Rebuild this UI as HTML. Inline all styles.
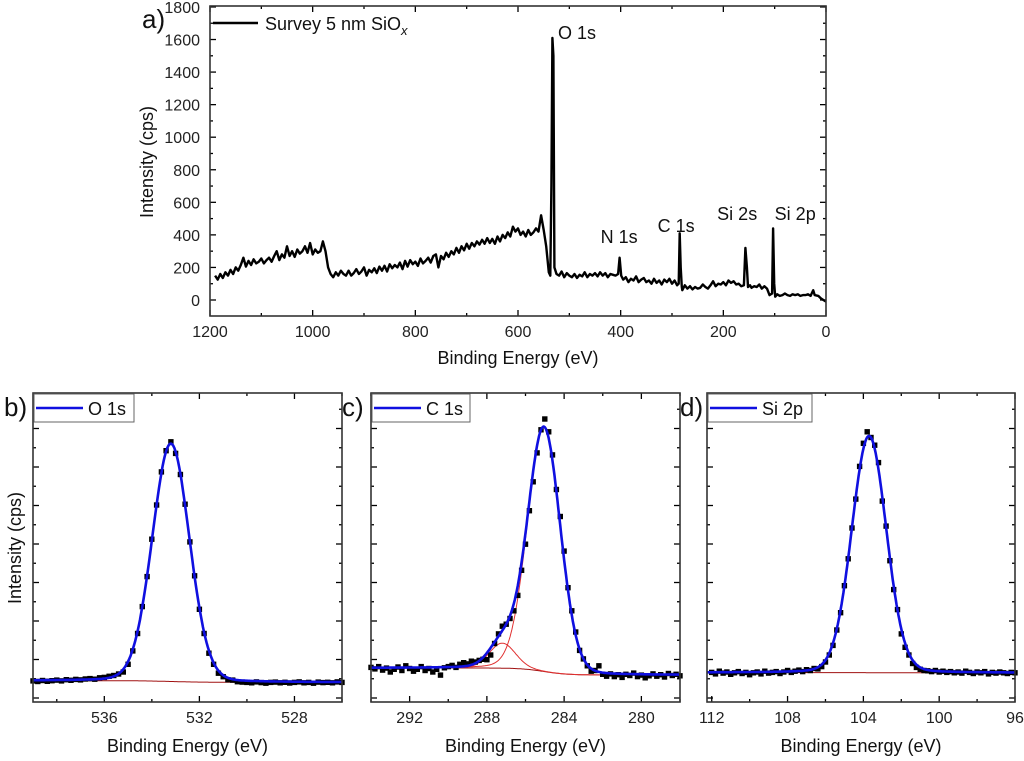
<!DOCTYPE html>
<html><head><meta charset="utf-8"><style>
html,body{margin:0;padding:0;background:#fff;}
svg{display:block;font-family:"Liberation Sans",Arial,sans-serif;}
</style></head><body>
<svg id="fig" width="1024" height="761" viewBox="0 0 1024 761" xmlns="http://www.w3.org/2000/svg"></svg>
<script>
// ---- Survey (a) ----
const surveyBE=[
1190,1185,1180,1175,1170,1165,1160,1155,1150,1145,
1140,1135,1130,1125,1120,1115,1110,1105,1100,1095,
1090,1085,1080,1075,1070,1065,1060,1055,1050,1045,
1040,1035,1030,1025,1020,1015,1010,1005,1000,995,
990,985,980,975,970,965,960,955,950,945,
940,935,930,925,920,915,910,905,900,895,
890,885,880,875,870,865,860,855,850,845,
840,835,830,825,820,815,810,805,800,795,
790,785,780,775,770,765,760,755,750,745,
740,735,730,725,720,715,710,705,700,695,
690,685,680,675,670,665,660,655,650,645,
640,635,630,625,620,615,610,605,600,595,
590,585,580,575,570,565,560,555,550,545,
540,537,535,533,531,529,525,520,515,510,
505,500,495,490,485,480,475,470,465,460,
455,450,445,440,435,430,425,420,415,410,
405,402,399,395,390,385,380,375,370,365,
360,355,350,345,340,335,330,325,320,315,
310,305,300,295,290,287,285,283,281,280,
275,270,265,260,255,250,245,240,235,230,
225,220,215,210,205,200,195,190,185,180,
175,170,165,160,157,154,152,148,145,140,
135,130,125,120,115,110,105,103,101,99,
95,90,85,80,75,70,65,60,55,50,
45,40,35,30,25,22,15,10,5,0];
const surveyCounts=[
150,125,160,135,170,150,185,160,200,180,
215,260,205,240,215,250,225,235,255,225,
245,260,235,270,300,245,280,260,330,270,
300,265,310,285,300,330,290,350,280,310,
290,300,360,300,200,160,140,170,150,180,
160,150,180,150,165,190,160,175,200,150,
185,170,195,165,205,180,210,175,220,195,
215,200,230,190,240,205,245,220,235,210,
255,225,240,260,230,270,280,200,270,250,
290,265,300,280,320,290,330,305,345,315,
350,330,360,340,370,345,380,350,375,345,
390,360,400,380,415,390,450,420,440,400,
420,390,430,400,415,440,420,520,430,330,
170,150,700,1610,1500,200,160,150,175,140,
165,150,140,160,135,155,145,170,140,160,
150,165,145,170,150,165,140,160,155,150,
160,260,150,125,140,110,130,120,145,110,
125,135,110,120,100,130,105,120,95,125,
110,130,100,120,90,100,410,200,80,60,
90,70,85,65,80,70,75,95,80,70,
90,115,85,100,95,110,90,120,105,115,
95,100,85,90,320,200,80,90,75,85,
80,95,70,85,70,30,40,440,100,20,
35,25,30,40,30,25,35,30,35,25,
30,30,35,25,60,30,25,10,0,-10];
const surveyXTicks=[1200,1000,800,600,400,200,0];
const surveyYTicks=[0,200,400,600,800,1000,1200,1400,1600,1800];
const peakLabels=["O 1s","N 1s","C 1s","Si 2s","Si 2p"];
const peakLabelBE=[485,403,292,173,60];
const peakLabelCounts=[1603,350,418,491,491];

// ---- O 1s (b) ----
const o1sBEStart=539.0, o1sStep=0.2;
const o1sCounts=[470,455,480,460,475,490,470,500,485,510,495,520,530,515,550,560,590,610,650,700,900,1250,1700,2400,3180,4150,5040,5900,6450,6680,6380,5830,5060,4080,3200,2330,1700,1190,900,670,580,500,490,450,440,430,420,445,425,410,430,440,420,435,415,430,445,420,430,410,440,425,435,420,445,430];
const o1sPeakCenters=[533.2], o1sPeakAmps=[6180], o1sPeakFWHM=[1.84];
const o1sBg=[475,435];
const o1sXTicks=[536,532,528];

// ---- C 1s (c) ----
const c1sBEStart=294.0, c1sStep=0.2;
const c1sCounts=[380,340,400,310,360,260,330,390,300,420,350,280,330,400,300,350,260,330,180,370,400,430,380,460,500,470,540,520,560,590,580,700,1000,1250,1450,1500,1650,1850,2250,2900,3580,4450,5200,5950,6550,6830,6500,5900,5000,4300,3400,2450,1850,1300,820,600,420,280,300,420,200,150,210,140,190,120,200,170,230,140,180,110,160,210,150,190,130,220,170,200,160];
const c1sPeakCenters=[285.05,287.2], c1sPeakAmps=[6350,650], c1sPeakFWHM=[2.0,1.6];
const c1sBg=[364,182];
const c1sXTicks=[292,288,284,280];

// ---- Si 2p (d) ----
const si2pBEStart=112.0, si2pStep=0.2;
const si2pCounts=[250,210,280,230,260,200,240,270,220,250,190,240,260,210,280,230,250,270,220,260,300,250,280,310,270,320,300,350,340,400,520,700,950,1350,1800,2500,3200,4000,4750,5600,6200,6500,6350,6150,5700,4700,4050,3150,2400,1880,1250,900,700,480,380,330,300,290,270,300,260,280,250,270,240,260,230,280,250,220,260,240,270,210,250,230,260,240,220,250,240];
const si2pPeakCenters=[103.7], si2pPeakAmps=[6150], si2pPeakFWHM=[2.15];
const si2pBg=[245,240];
const si2pXTicks=[112,108,104,100,96];

const NS="http://www.w3.org/2000/svg";
const svg=document.getElementById('fig');
function mk(tag,attrs,parent){const e=document.createElementNS(NS,tag);for(const k in attrs)e.setAttribute(k,attrs[k]);(parent||svg).appendChild(e);return e;}
function txt(s,attrs,parent){const e=mk('text',attrs,parent);e.textContent=s;return e;}

// ===== Panel a =====
(function(){
  const L=210,R=826,T=6,B=316;
  const xS=v=>L+(1200-v)*(R-L)/1200;
  const yS=v=>300-v*0.1628;
  const g=mk('g',{});
  
  
  for(let v=0;v<=1200;v+=100){const x=xS(v);const len=v%200===0?6:3;
    mk('line',{x1:x,y1:B,x2:x,y2:B-len,stroke:'#000','stroke-width':1.3},g);
    mk('line',{x1:x,y1:T,x2:x,y2:T+len,stroke:'#000','stroke-width':1.3},g);}
  for(let v=-100;v<=1800;v+=100){const y=yS(v);if(y<T||y>B)continue;const len=v%200===0?6:3;
    mk('line',{x1:L,y1:y,x2:L+len,y2:y,stroke:'#000','stroke-width':1.3},g);
    mk('line',{x1:R,y1:y,x2:R-len,y2:y,stroke:'#000','stroke-width':1.3},g);}
  surveyXTicks.forEach(v=>{const t=txt(String(v),{x:xS(v),y:337,'font-size':16,'text-anchor':'middle',fill:'#222'},g);
    });
  surveyYTicks.forEach(v=>{const t=txt(String(v),{x:200,y:yS(v)+6,'font-size':16,'text-anchor':'end',fill:'#222'},g);
    });
  const d=surveyBE.map((b,i)=>(i?'L':'M')+xS(b).toFixed(1)+','+yS(surveyCounts[i]).toFixed(1)).join('');
  const p=mk('path',{d:d,fill:'none',stroke:'#000','stroke-width':2.4,'stroke-linejoin':'round'},g);
  
  mk('rect',{x:L,y:T,width:R-L,height:B-T,fill:'none',stroke:'#333','stroke-width':1.6},g);
  peakLabels.forEach((s,i)=>{const t=txt(s,{x:xS(peakLabelBE[i]),y:yS(peakLabelCounts[i]),'font-size':18,'text-anchor':'middle',fill:'#111'},g);
    });
  const lg=mk('g',{},g);
  mk('line',{x1:213,y1:23,x2:258,y2:23,stroke:'#000','stroke-width':2.5},lg);
  const lt=txt('Survey 5 nm SiO',{x:265,y:30,'font-size':18,fill:'#111'},lg);
  const sub=mk('tspan',{dy:5,'font-size':13,'font-style':'italic'},lt);sub.textContent='x';
  const pa=txt('a)',{x:142,y:28,'font-size':26,fill:'#111'},g);
  const xt=txt('Binding Energy (eV)',{x:518,y:364,'font-size':18,'text-anchor':'middle',fill:'#111'},g);
  
  const yt=txt('Intensity (cps)',{x:0,y:0,'font-size':18,'text-anchor':'middle',fill:'#111',transform:'translate(153,162) rotate(-90)'},g);
  
})();

// ===== Bottom panels =====
function pv(x,c,a,w){const d=(x-c)/w;const G=Math.exp(-2.7726*d*d);const Lz=1/(1+4*d*d);return a*(0.92*G+0.08*Lz);}
function panel(opt){
  const {L,R,T,B,y0,beL,beR,start,step,counts,centers,amps,fwhm,bg,xticks,name,label,lx,legendW}=opt;
  const xS=v=>L+(beL-v)*(R-L)/(beL-beR);
  const yS=v=>y0-v*0.0385;
  const g=mk('g',{});
  
  
  for(let v=Math.ceil(beR/2)*2;v<=beL;v+=2){const x=xS(v);const len=(v%4===0)?6:3;
    mk('line',{x1:x,y1:B,x2:x,y2:B-len,stroke:'#000','stroke-width':1.3},g);
    mk('line',{x1:x,y1:T,x2:x,y2:T+len,stroke:'#000','stroke-width':1.3},g);}
  for(let k=0;k<=18;k++){const y=B-4-k*19.25;if(y<T+2)continue;const len=k%2===0?6:3;
    mk('line',{x1:L,y1:y,x2:L+len,y2:y,stroke:'#000','stroke-width':1.3},g);
    mk('line',{x1:R,y1:y,x2:R-len,y2:y,stroke:'#000','stroke-width':1.3},g);}
  xticks.forEach(v=>{const t=txt(String(v),{x:xS(v),y:723,'font-size':16,'text-anchor':'middle',fill:'#222'},g);
    });
  const bgF=x=>bg[1]+(bg[0]-bg[1])/(1+Math.exp(-(x-centers[0])/0.6));
  const xs=[];for(let x=beL;x>=beR;x-=0.05)xs.push(x);
  const path=f=>xs.map((x,i)=>(i?'L':'M')+xS(x).toFixed(1)+','+yS(f(x)).toFixed(1)).join('');
  const bp=mk('path',{d:path(bgF),fill:'none',stroke:'#a01010','stroke-width':1},g);
  
  centers.forEach((c,i)=>{const cp=mk('path',{d:path(x=>bgF(x)+pv(x,c,amps[i],fwhm[i])),fill:'none',stroke:'#e03030','stroke-width':1},g);
    });
  counts.forEach((v,i)=>{const x=xS(start-i*step),y=yS(v);
    const r=mk('rect',{x:(x-2.7).toFixed(1),y:(y-2.7).toFixed(1),width:5.4,height:5.4,fill:'#000'},g);
    });
  const fp=mk('path',{d:path(x=>bgF(x)+centers.reduce((s,c,i)=>s+pv(x,c,amps[i],fwhm[i]),0)),fill:'none',stroke:'#1010e0','stroke-width':2.6},g);
  
  mk('rect',{x:L,y:T,width:R-L,height:B-T,fill:'none',stroke:'#333','stroke-width':1.6},g);
  const lg=mk('g',{},g);
  mk('rect',{x:L+1,y:T+1,width:legendW,height:28,fill:'#fff',stroke:'#666','stroke-width':1},lg);
  mk('line',{x1:L+3,y1:T+15,x2:L+50,y2:T+15,stroke:'#1010e0','stroke-width':2.6},lg);
  txt(label,{x:L+55,y:T+22,'font-size':18,fill:'#111'},lg);
  const xt=txt('Binding Energy (eV)',{x:(L+R)/2,y:752,'font-size':18,'text-anchor':'middle',fill:'#111'},g);
  
  const pl=txt(lx[0],{x:lx[1],y:416,'font-size':26,fill:'#111'},g);
  
}
panel({L:33,R:342,T:393,B:702,y0:699,beL:539.0,beR:526.0,start:o1sBEStart,step:o1sStep,counts:o1sCounts,centers:o1sPeakCenters,amps:o1sPeakAmps,fwhm:o1sPeakFWHM,bg:o1sBg,xticks:o1sXTicks,name:'o1s',label:'O 1s',lx:['b)',4],legendW:100});
panel({L:371,R:680,T:393,B:702,y0:682,beL:294.0,beR:278.0,start:c1sBEStart,step:c1sStep,counts:c1sCounts,centers:c1sPeakCenters,amps:c1sPeakAmps,fwhm:c1sPeakFWHM,bg:c1sBg,xticks:c1sXTicks,name:'c1s',label:'C 1s',lx:['c)',342],legendW:98});
panel({L:707,R:1015,T:393,B:702,y0:682,beL:112.25,beR:96.0,start:si2pBEStart,step:si2pStep,counts:si2pCounts,centers:si2pPeakCenters,amps:si2pPeakAmps,fwhm:si2pPeakFWHM,bg:si2pBg,xticks:si2pXTicks,name:'si2p',label:'Si 2p',lx:['d)',680],legendW:104});
const yt=txt('Intensity (cps)',{x:0,y:0,'font-size':18,'text-anchor':'middle',fill:'#111',transform:'translate(21,548) rotate(-90)'});


</script>
</body></html>
